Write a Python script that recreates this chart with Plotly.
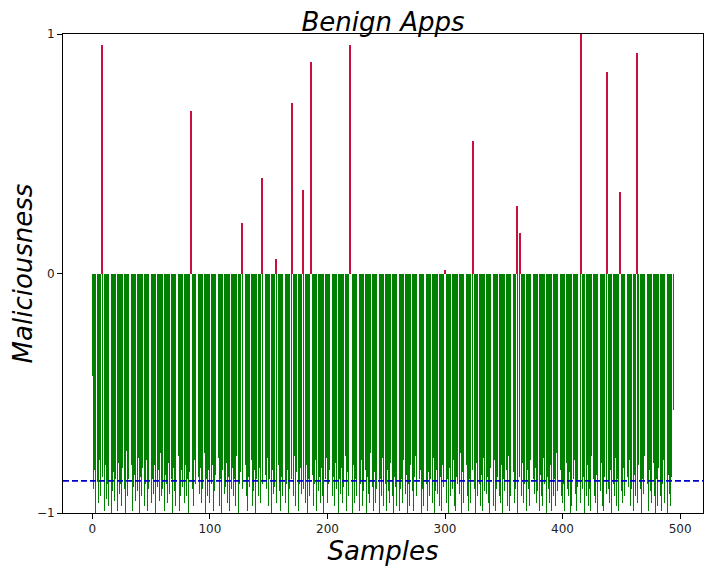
import plotly.graph_objects as go

# maliciousness score per benign sample (index = sample number)
scores = [
    -0.43, -0.90, -0.82, -1.00, -0.87, -0.96, -0.78, -0.93, 0.956, -0.85, -0.99, -0.80, -0.94, -0.88, -0.97, -0.76, -1.00, -0.91, -0.83, -0.95,
    -0.86, -0.99, -0.79, -0.92, -0.88, -0.97, -0.81, -0.90, -1.00, -0.74, -0.93, -0.86, -0.96, -0.80, -0.99, -0.89, -0.84, -0.95, -0.91, -0.77,
    -1.00, -0.85, -0.93, -0.81, -0.97, -0.88, -0.78, -0.99, -0.90, -0.83, -0.96, -0.86, -0.92, -0.80, -1.00, -0.89, -0.82, -0.95, -0.75, -0.93,
    -0.90, -0.99, -0.84, -0.88, -0.96, -0.79, -0.92, -0.86, -1.00, -0.81, -0.91, -0.97, -0.85, -0.76, -0.99, -0.93, -0.82, -0.89, -0.96, -0.80,
    -0.93, -0.86, -1.00, -0.83, 0.678, -0.90, -0.97, -0.78, -0.88, -0.99, -0.85, -0.92, -0.81, -0.96, -0.90, -0.75, -1.00, -0.86, -0.93, -0.82,
    -0.96, -0.88, -0.80, -0.99, -0.91, -0.84, -0.93, -0.77, -0.97, -0.86, -1.00, -0.82, -0.92, -0.89, -0.79, -0.96, -0.85, -0.99, -0.90, -0.81,
    -0.93, -0.86, -0.97, -0.76, -1.00, -0.88, -0.83, 0.21, -0.90, -0.96, -0.80, -0.93, -0.99, -0.85, -0.89, -0.78, -0.97, -0.91, -0.82, -1.00,
    -0.86, -0.93, -0.81, -0.96, 0.40, -0.88, -0.99, -0.84, -0.90, -0.77, -0.97, -0.86, -1.00, -0.82, -0.92, -0.89, 0.06, -0.96, -0.80, -0.91,
    -0.99, -0.85, -0.93, -0.79, -0.96, -0.88, -0.82, -1.00, -0.90, -0.86, 0.71, -0.93, -0.76, -0.97, -0.83, -0.99, -0.88, -0.81, -0.92, 0.35,
    -0.90, -0.96, -0.80, -1.00, -0.86, -0.93, 0.885, -0.84, -0.97, -0.88, -0.78, -0.99, -0.91, -0.85, -0.96, -0.81, -0.93, -1.00, -0.86, -0.77,
    -0.96, -0.88, -0.82, -0.99, -0.93, -0.85, -0.97, -0.79, -0.90, -1.00, -0.86, -0.92, -0.81, -0.96, -0.89, -0.76, -0.99, -0.83, -0.93, 0.956,
    -0.90, -1.00, -0.80, -0.96, -0.86, -0.93, -0.84, -0.99, -0.88, -0.78, -0.97, -0.91, -0.82, -1.00, -0.85, -0.92, -0.96, -0.75, -0.89, -0.99,
    -0.83, -0.96, -0.90, -0.80, -1.00, -0.86, -0.93, -0.77, -0.97, -0.88, -0.99, -0.82, -0.91, -0.96, -0.79, -0.93, -1.00, -0.85, -0.89, -0.97,
    -0.81, -0.99, -0.90, -0.86, -0.96, -0.78, -0.92, -0.84, -1.00, -0.88, -0.97, -0.80, -0.91, -0.99, -0.85, -0.76, -0.93, -0.96, -0.86, -0.82,
    -1.00, -0.90, -0.97, -0.79, -0.88, -0.99, -0.83, -0.93, -0.86, -0.96, -0.77, -1.00, -0.91, -0.82, -0.92, -0.97, -0.85, -0.99, -0.80, -0.89,
    0.016, -0.96, -0.86, -1.00, -0.81, -0.93, -0.90, -0.78, -0.97, -0.99, -0.85, -0.88, -0.92, -0.75, -1.00, -0.83, -0.96, -0.90, -0.80, -0.93,
    -0.99, -0.86, -0.96, -0.82, 0.553, -0.90, -1.00, -0.79, -0.93, -0.88, -0.97, -0.84, -0.99, -0.77, -0.91, -0.92, -0.85, -0.96, -1.00, -0.81,
    -0.89, -0.97, -0.78, -0.99, -0.90, -0.85, -0.93, -0.96, -0.80, -1.00, -0.86, -0.91, -0.82, -0.97, -0.76, -0.99, -0.93, -0.88, -0.83, -0.96,
    -0.90, 0.28, -1.00, -0.85, 0.17, -0.93, -0.79, -0.96, -0.88, -0.99, -0.82, -0.90, -0.97, -0.78, -1.00, -0.86, -0.92, -0.81, -0.96, -0.91,
    -0.99, -0.84, -0.93, -0.97, -0.77, -0.88, -1.00, -0.85, -0.90, -0.96, -0.80, -0.99, -0.93, -0.86, -0.97, -0.75, -0.91, -1.00, -0.82, -0.93,
    -0.96, -0.88, -0.99, -0.79, -0.90, -0.93, -0.83, -1.00, -0.97, -0.86, -0.78, -0.92, -0.99, -0.89, -0.81, -0.96, 1.0, -0.90, -0.85, -1.00,
    -0.93, -0.80, -0.97, -0.90, -0.99, -0.76, -0.86, -0.93, -0.96, -0.84, -1.00, -0.88, -0.91, -0.79, -0.97, -0.99, -0.85, -0.92, 0.84, -0.90,
    -0.96, -0.82, -1.00, -0.88, -0.93, -0.77, -0.97, -0.86, -0.99, 0.34, -0.91, -0.96, -0.81, -0.93, -1.00, -0.85, -0.89, -0.78, -0.97, -0.90,
    -0.99, -0.84, -0.93, 0.92, -0.96, -0.80, -0.90, -1.00, -0.86, -0.92, -0.76, -0.97, -0.88, -0.99, -0.82, -0.91, -0.96, -0.79, -0.93, -1.00,
    -0.86, -0.97, -0.81, -0.93, -0.99, -0.88, -0.78, -0.96, -0.90, -1.00, -0.84, -0.92, -0.97, -0.85, -0.57,
]
samples = list(range(len(scores)))
threshold = -0.866

x_ticks = [0, 100, 200, 300, 400, 500]
y_ticks = [-1, 0, 1]
y_tick_text = ["\u22121", "0", "1"]

neg_scores = [s if s <= 0 else None for s in scores]
pos_scores = [s if s > 0 else None for s in scores]

FONT = "DejaVu Sans"

fig = go.Figure()

# benign-looking samples (thin hairline so bars snap to pixels like the original)
fig.add_trace(go.Bar(
    x=samples,
    y=neg_scores,
    width=0.8,
    marker=dict(color="green", line=dict(width=0.02, color="green")),
    showlegend=False,
))

# samples flagged as malicious
fig.add_trace(go.Bar(
    x=samples,
    y=pos_scores,
    width=0.8,
    marker=dict(color="#c8103c", line=dict(width=0)),
    showlegend=False,
))

fig.add_hline(y=threshold, line=dict(color="#0000cc", width=1.8, dash="6px,3px"))

axis_common = dict(
    showline=True,
    linecolor="black",
    linewidth=1,
    mirror=True,
    ticks="outside",
    ticklen=5,
    tickcolor="black",
    showgrid=False,
    zeroline=False,
    automargin=False,
    tickfont=dict(family=FONT, size=12, color="#222"),
)

# page body adds an 8px offset, so the figure is sized to the remaining window
fig.update_layout(
    width=706,
    height=562,
    margin=dict(l=55, r=11, t=26, b=57),
    plot_bgcolor="white",
    paper_bgcolor="white",
    barmode="overlay",
    bargap=0,
    title=dict(
        text="Benign Apps",
        x=0.5, xref="paper", xanchor="center",
        y=0.976, yref="container", yanchor="middle",
        font=dict(family=FONT, size=26, style="italic", color="black"),
    ),
    xaxis=dict(
        range=[-25, 519.5],
        tickvals=x_ticks,
        title=dict(text="Samples", standoff=4,
                   font=dict(family=FONT, size=26, style="italic", color="black")),
        **axis_common,
    ),
    yaxis=dict(
        range=[-1, 1],
        tickvals=y_ticks,
        ticktext=y_tick_text,
        title=dict(text="Maliciousness", standoff=0,
                   font=dict(family=FONT, size=26, style="italic", color="black")),
        **axis_common,
    ),
)

fig.write_html("out.html")
